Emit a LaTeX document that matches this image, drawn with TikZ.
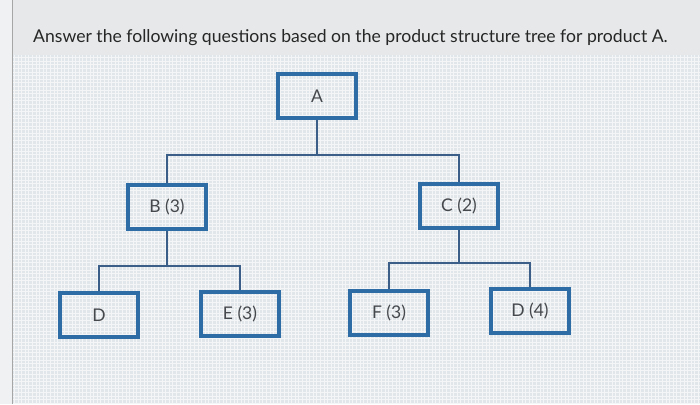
\documentclass[tikz,border=0pt]{standalone}
\usepackage{fontspec}
\setmainfont{Lato}
\definecolor{bgcol}{HTML}{E6E8E9}
\definecolor{gridcol}{HTML}{F3F5F6}
\definecolor{gridbg}{HTML}{E0E6E9}
\definecolor{boxblue}{HTML}{2E6CA5}
\definecolor{linkblue}{HTML}{3A5E88}
\definecolor{txtgray}{HTML}{45484C}
\tikzset{
  partbox/.style={draw=boxblue, line width=3.8pt, minimum width=78pt, minimum height=44pt,
    inner sep=0pt, text=txtgray, font=\fontsize{17.5}{20}\selectfont},
  link/.style={draw=linkblue, line width=2.8pt}
}
\begin{document}
\begin{tikzpicture}[x=1pt,y=-1pt]
\useasboundingbox (0,0) rectangle (700,404);
% background
\fill[bgcol] (0,0) rectangle (700,404);
\fill[gridbg] (13,55) rectangle (700,404);
\draw[gridcol, line width=0.9pt, step=3.6pt] (13,55) grid (700,404);
\fill[bgcol!60!white] (0,0) rectangle (12,404);
\draw[gray!70, line width=1pt] (12.5,0) -- (12.5,404);
% title
\node[anchor=base west, inner sep=0pt, text=black!85, font=\fontsize{17.6}{20}\selectfont]
  (title) at (33,43) {Answer the following questions based on the product structure tree for product A.};
% nodes
\node[partbox] (A) at (317,96) {A};
\node[partbox] (B) at (167,207) {B (3)};
\node[partbox] (C) at (459,206) {C (2)};
\node[partbox] (D1) at (99,315) {D};
\node[partbox] (E) at (240,314) {E (3)};
\node[partbox] (F) at (389,313) {F (3)};
\node[partbox] (D2) at (530,311) {D (4)};
% connectors
\draw[link] (A.south) -- (A.south |- 0,155) coordinate (abus);
\draw[link] (abus) -| (B.north);
\draw[link] (abus) -| (C.north);
\draw[link] (B.south) -- (B.south |- 0,266) coordinate (bbus);
\draw[link] (bbus) -| (D1.north);
\draw[link] (bbus) -| (E.north);
\draw[link] (C.south) -- (C.south |- 0,263) coordinate (cbus);
\draw[link] (cbus) -| (F.north);
\draw[link] (cbus) -| (D2.north);
\end{tikzpicture}
\end{document}
